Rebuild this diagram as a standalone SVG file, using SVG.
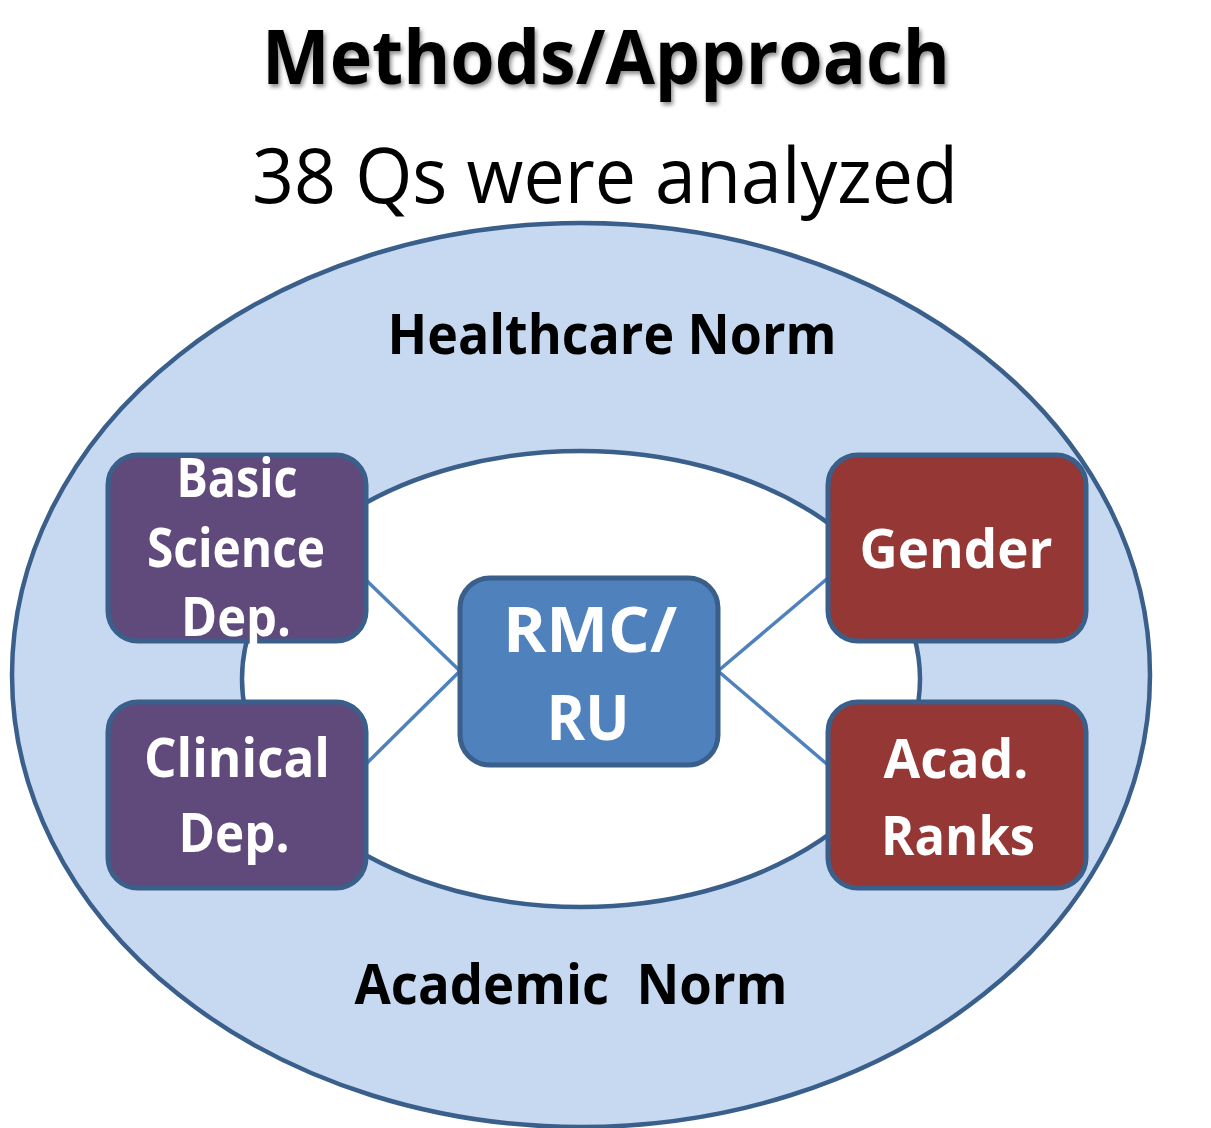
<svg xmlns="http://www.w3.org/2000/svg" width="1211" height="1128" viewBox="0 0 1211 1128">
  <style>
    .title { font-family: "Open Sans", "Noto Sans", sans-serif; font-weight: 700; font-size: 76px; fill: #000; }
    .sub { font-family: "Open Sans", "Noto Sans", sans-serif; font-weight: 400; font-size: 76px; fill: #000; }
    .norm { font-family: "Open Sans", "Noto Sans", sans-serif; font-weight: 700; font-size: 56px; fill: #000; white-space: pre; }
    .lbl { font-family: "Open Sans", "Noto Sans", sans-serif; font-weight: 700; font-size: 53px; fill: #fff; }
    .lbl-big { font-family: "Open Sans", "Noto Sans", sans-serif; font-weight: 700; font-size: 62px; fill: #fff; }
    .ring { stroke: #3A5F8B; stroke-width: 4.5; }
    .box { stroke: #3A5F8B; stroke-width: 5; }
    .dept { fill: #604A7B; }
    .attr { fill: #953735; }
    .core { fill: #4F81BD; }
    .link { stroke: #4F81BD; stroke-width: 3.5; fill: none; }
  </style>
  <defs>
    <filter id="shadow" x="-5%" y="-20%" width="110%" height="140%">
      <feDropShadow dx="2" dy="3" stdDeviation="2" flood-color="#000" flood-opacity="0.45"/>
    </filter>
  </defs>

  <rect width="1211" height="1128" fill="#fff"/>

  <!-- headings -->
  <text class="title" x="606" y="84" text-anchor="middle" textLength="688" lengthAdjust="spacingAndGlyphs" filter="url(#shadow)">Methods/Approach</text>
  <text class="sub" x="605" y="203" text-anchor="middle" textLength="706" lengthAdjust="spacingAndGlyphs">38 Qs were analyzed</text>

  <!-- norm rings -->
  <g id="healthcare-norm">
    <ellipse class="ring" cx="581" cy="675" rx="569" ry="452" fill="#C6D9F1"/>
    <text class="norm" x="612" y="354" text-anchor="middle" textLength="449" lengthAdjust="spacingAndGlyphs">Healthcare Norm</text>
  </g>
  <g id="academic-norm">
    <ellipse class="ring" cx="581" cy="679" rx="339" ry="228" fill="#fff"/>
    <text class="norm" x="571" y="1004" text-anchor="middle" textLength="433" lengthAdjust="spacingAndGlyphs">Academic  Norm</text>
  </g>

  <!-- connectors -->
  <g id="connectors">
    <line class="link" x1="366" y1="580" x2="460" y2="671"/>
    <line class="link" x1="366" y1="764" x2="460" y2="671"/>
    <line class="link" x1="828" y1="578" x2="718" y2="671"/>
    <line class="link" x1="828" y1="765" x2="718" y2="671"/>
  </g>

  <!-- nodes -->
  <g id="basic-science">
    <rect class="box dept" x="108" y="455" width="258" height="186" rx="30"/>
    <text class="lbl" x="237" y="497" text-anchor="middle" textLength="121" lengthAdjust="spacingAndGlyphs">Basic</text>
    <text class="lbl" x="236" y="567" text-anchor="middle" textLength="178" lengthAdjust="spacingAndGlyphs">Science</text>
    <text class="lbl" x="236" y="636" text-anchor="middle" textLength="110" lengthAdjust="spacingAndGlyphs">Dep.</text>
  </g>
  <g id="clinical">
    <rect class="box dept" x="108" y="702" width="258" height="186" rx="30"/>
    <text class="lbl" x="237" y="777" text-anchor="middle" textLength="186" lengthAdjust="spacingAndGlyphs">Clinical</text>
    <text class="lbl" x="234" y="852" text-anchor="middle" textLength="111" lengthAdjust="spacingAndGlyphs">Dep.</text>
  </g>
  <g id="rmc-ru">
    <rect class="box core" x="460" y="578" width="258" height="187" rx="30"/>
    <text class="lbl-big" x="590" y="652" text-anchor="middle" textLength="174" lengthAdjust="spacingAndGlyphs">RMC/</text>
    <text class="lbl-big" x="588" y="740" text-anchor="middle" textLength="83" lengthAdjust="spacingAndGlyphs">RU</text>
  </g>
  <g id="gender">
    <rect class="box attr" x="828" y="455" width="258" height="186" rx="30"/>
    <text class="lbl" x="956" y="568" text-anchor="middle" textLength="193" lengthAdjust="spacingAndGlyphs">Gender</text>
  </g>
  <g id="acad-ranks">
    <rect class="box attr" x="828" y="702" width="258" height="186" rx="30"/>
    <text class="lbl" x="956" y="778" text-anchor="middle" textLength="145" lengthAdjust="spacingAndGlyphs">Acad.</text>
    <text class="lbl" x="958" y="855" text-anchor="middle" textLength="154" lengthAdjust="spacingAndGlyphs">Ranks</text>
  </g>
</svg>
